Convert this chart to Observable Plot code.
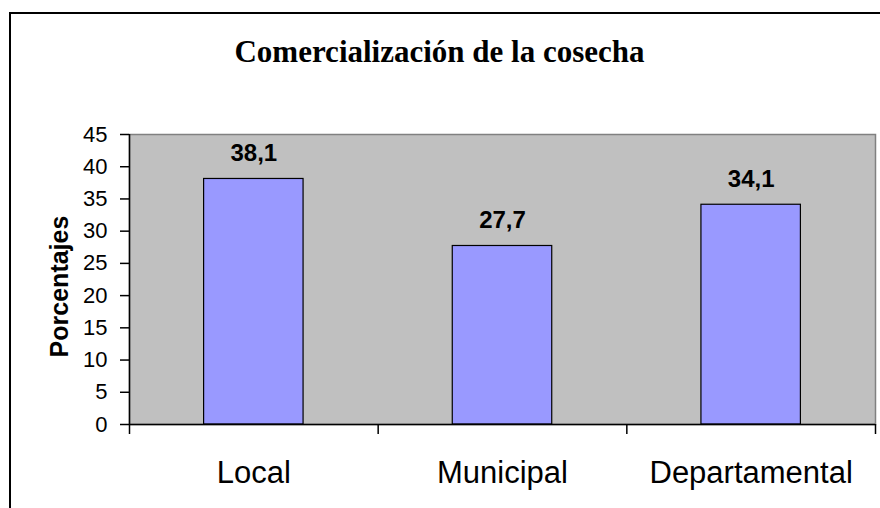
<!DOCTYPE html>
<html>
<head>
<meta charset="utf-8">
<script src="https://cdn.jsdelivr.net/npm/d3@7"></script>
<script src="https://cdn.jsdelivr.net/npm/@observablehq/plot@0.6"></script>
<style>
  html, body { margin: 0; padding: 0; background: #fff; overflow: hidden; }
  #wrap { position: relative; width: 880px; height: 508px; overflow: hidden; }
  #border { position: absolute; left: 9px; top: 12px; width: 900px; height: 600px; border: 2px solid #000; box-sizing: border-box; }
  #chart { position: absolute; left: 0; top: 0; }
</style>
</head>
<body>
<div id="wrap"><div id="border"></div><div id="chart"></div></div>
<script>
const title = "Comercialización de la cosecha";
const yLabel = "Porcentajes";
const categories = ["Local", "Municipal", "Departamental"];
const values = [38.1, 27.7, 34.1];
const yTicks = [0, 5, 10, 15, 20, 25, 30, 35, 40, 45];

const data = categories.map((c, i) => ({ cat: c, i, value: values[i] }));
const fmt = v => v.toFixed(1).replace(".", ",");

const chart = Plot.plot({
  width: 880,
  height: 508,
  marginLeft: 129,
  marginRight: 5,
  marginTop: 134,
  marginBottom: 84,
  style: { fontFamily: "'Liberation Sans', Arial, sans-serif", fontSize: "22px", color: "#000", background: "transparent" },
  x: { domain: [0, categories.length], axis: null },
  y: { domain: [0, 45], axis: null },
  marks: [
    Plot.frame({ fill: "#c0c0c0", stroke: "#808080", strokeWidth: 1.5 }),
    Plot.rectY(data, { x1: d => d.i + 0.3, x2: d => d.i + 0.7, y1: 0, y2: "value", fill: "#9999ff", stroke: "#000", strokeWidth: 1.2 }),
    Plot.ruleY([0], { stroke: "#000", strokeWidth: 1.5 }),
    Plot.ruleX([0], { stroke: "#000", strokeWidth: 1.5 }),
    Plot.axisY({ ticks: yTicks, tickSize: 9, tickPadding: 13, fontSize: 22, stroke: "#000", strokeWidth: 1.5, label: null }),
    Plot.axisX({ ticks: d3.range(categories.length + 1), tickSize: 10, tickFormat: () => "", stroke: "#000", strokeWidth: 1.5, label: null }),
    Plot.text(data, { x: d => d.i + 0.5, y: "value", text: d => fmt(d.value), dy: -18, lineAnchor: "bottom", fontSize: 24, fontWeight: "bold", fill: "#000" }),
    Plot.text(data, { x: d => d.i + 0.5, text: "cat", frameAnchor: "bottom", lineAnchor: "bottom", dy: 58, fontSize: 31, fill: "#000" }),
    Plot.text([yLabel], { frameAnchor: "left", textAnchor: "middle", rotate: -90, dx: -70, dy: 7, fontSize: 25, fontWeight: "bold", fill: "#000" }),
    Plot.text([title], { frameAnchor: "top", textAnchor: "middle", dx: -63, dy: -73, lineAnchor: "bottom", fontSize: 31, fontWeight: "bold", fontFamily: "'Liberation Serif', 'Times New Roman', serif", fill: "#000" })
  ]
});
document.getElementById("chart").appendChild(chart);
</script>
</body>
</html>
